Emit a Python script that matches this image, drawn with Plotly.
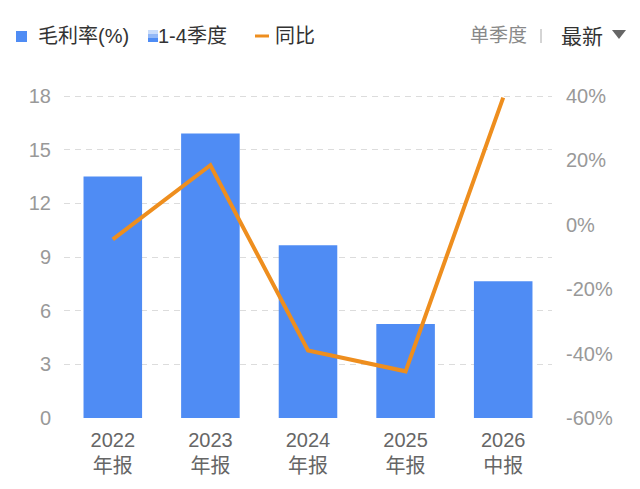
import plotly.graph_objects as go

# data
periods = ['2022<br>年报', '2023<br>年报', '2024<br>年报', '2025<br>年报', '2026<br>中报']
gross_margin = [13.5, 15.9, 9.65, 5.25, 7.65]      # 毛利率(%)
yoy = [-4.5, 18.5, -39.0, -45.5, 39.5]             # 同比 (%)
left_ticks = [0, 3, 6, 9, 12, 15, 18]
right_ticks = [-60, -40, -20, 0, 20, 40]

BLUE = '#4f8cf4'
ORANGE = '#ee8e1e'
FONT = 'Liberation Sans, Noto Sans CJK SC'

W, H = 640, 489
L, R, T, B = 64, 88, 94, 71
# value 18 should land at y=96px, leaving a little headroom so its gridline is drawn
PAD = 18 * (H - T - B) / 322 - 18


# pixel -> paper helpers for the header decorations
def px(x):
    return (x - L) / (W - L - R)


def py(y):
    return (H - B - y) / (H - T - B)


fig = go.Figure()

fig.add_trace(go.Bar(x=periods, y=gross_margin, marker_color=BLUE,
                     marker_line_width=0, width=0.6, name='毛利率(%)'))
fig.add_trace(go.Scatter(x=periods, y=yoy, yaxis='y2', mode='lines',
                         line=dict(color=ORANGE, width=4), name='同比'))

fig.update_layout(
    width=W, height=H,
    margin=dict(l=L, r=R, t=T, b=B),
    plot_bgcolor='white', paper_bgcolor='white',
    showlegend=False,
    font=dict(family=FONT, size=20, color='#999999'),
    xaxis=dict(showgrid=False, showline=False, ticks='', ticklabelstandoff=8,
               tickfont=dict(size=20, color='#666666'), range=[-0.5, 4.5]),
    yaxis=dict(range=[0, 18 + PAD], tickvals=left_ticks, showline=False,
               gridcolor='#dcdcdc', griddash='6px,5px', gridwidth=1.3,
               zeroline=False, ticks='', ticklabelstandoff=12,
               tickfont=dict(size=20, color='#999999')),
    yaxis2=dict(range=[-60, 40 + PAD * 100 / 18], tickvals=right_ticks,
                ticktext=[f'{v}%' for v in right_ticks],
                overlaying='y', side='right', showgrid=False, zeroline=False,
                showline=False, ticks='', ticklabelstandoff=13,
                tickfont=dict(size=20, color='#999999')),
)

shapes = []
annotations = []

# legend: blue square
shapes.append(dict(type='rect', xref='paper', yref='paper',
                   x0=px(16), x1=px(27), y0=py(42), y1=py(31),
                   fillcolor=BLUE, line=dict(width=0)))
annotations.append(dict(text='毛利率(%)', xref='paper', yref='paper',
                        x=px(36), y=py(36), xanchor='left', yanchor='middle',
                        showarrow=False, font=dict(size=20, color='#333333')))

# legend: 1-4季度 gradient icon
for (y0, y1, c) in [(30, 34, '#c9dcfb'), (34, 38, '#93b8f7'), (38, 42, BLUE)]:
    shapes.append(dict(type='rect', xref='paper', yref='paper',
                       x0=px(148), x1=px(158), y0=py(y1), y1=py(y0),
                       fillcolor=c, line=dict(width=0)))
annotations.append(dict(text='1-4季度', xref='paper', yref='paper',
                        x=px(156), y=py(36), xanchor='left', yanchor='middle',
                        showarrow=False, font=dict(size=20, color='#333333')))

# legend: orange line
shapes.append(dict(type='line', xref='paper', yref='paper',
                   x0=px(255), x1=px(269), y0=py(36), y1=py(36),
                   line=dict(color=ORANGE, width=3)))
annotations.append(dict(text='同比', xref='paper', yref='paper',
                        x=px(273), y=py(36), xanchor='left', yanchor='middle',
                        showarrow=False, font=dict(size=20, color='#333333')))

# right header
annotations.append(dict(text='单季度', xref='paper', yref='paper',
                        x=px(468), y=py(35), xanchor='left', yanchor='middle',
                        showarrow=False, font=dict(size=19, color='#888888')))
shapes.append(dict(type='line', xref='paper', yref='paper',
                   x0=px(541), x1=px(541), y0=py(43), y1=py(29),
                   line=dict(color='#aaaaaa', width=1)))
annotations.append(dict(text='最新', xref='paper', yref='paper',
                        x=px(559), y=py(36), xanchor='left', yanchor='middle',
                        showarrow=False, font=dict(size=21, color='#333333')))
shapes.append(dict(type='path', xref='paper', yref='paper',
                   path=f'M {px(612)},{py(30)} L {px(626)},{py(30)} L {px(619)},{py(39)} Z',
                   fillcolor='#666666', line=dict(width=0)))

fig.update_layout(shapes=shapes, annotations=annotations)

# drop the default page margin so the figure sits at the window's corner
fig.write_html('out.html', config={'displayModeBar': False},
               post_script="document.body.style.margin='0';")
